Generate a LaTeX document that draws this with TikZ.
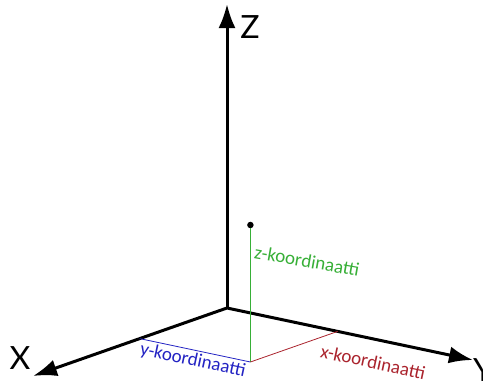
\documentclass[tikz,border=0pt]{standalone}
\usepackage{fontspec}
\setmainfont{Lato}
\newfontfamily\labelfont{Carlito}
\usetikzlibrary{arrows.meta,calc}
\definecolor{zgreen}{RGB}{55,175,55}
\definecolor{yblue}{RGB}{35,35,195}
\definecolor{xred}{RGB}{170,35,45}
\def\myfrac{0.45}
\def\myheight{137}
\tikzset{
  axis/.style={line width=3pt,line join=miter},
  tip/.style={-{Latex[length=24pt,width=17pt]}},
  axisname/.style={inner sep=0pt,font=\fontsize{32}{32}\selectfont},
  coordname/.style={inner sep=0pt,font=\labelfont\fontsize{19}{19}\selectfont},
  dot/.style={circle,fill,inner sep=2.3pt}
}

\begin{document}
\begin{tikzpicture}[x=1pt,y=-1pt]
\useasboundingbox (0,0) rectangle (483,383);
% the origin and the ends of the axes
\coordinate (O) at (227,308);
\coordinate (Xend) at (33,376);
\coordinate (Yend) at (473,360);
\coordinate (Zend) at (227,4);
% the axes
\draw[axis,{Latex[length=24pt,width=17pt]}-{Latex[length=24pt,width=17pt]}]
  (Xend) -- (O) -- (Yend);
\draw[axis,tip] (O) -- (Zend);
% the axis names
\node[axisname] (xname) at (20,358) {X};
\node[axisname] (yname) at (483,370) {Y};
\node[axisname] (zname) at (250,27) {Z};
% the point and its foot in the xy plane
\coordinate (A) at ($(O)!\myfrac!(Xend)$);
\coordinate (B) at ($(O)!\myfrac!(Yend)$);
\coordinate (F) at ($(A)+(B)-(O)$);
\node[dot] (P) at ($(F)+(0,-\myheight)$) {};
% the coordinate lines
\draw[zgreen,line width=0.8pt] (P) -- (F);
\draw[yblue,line width=0.8pt] (A) --
  node[coordname,midway,sloped,below=2pt,text=yblue] (ylabel) {y-koordinaatti} (F);
\draw[xred,line width=0.8pt] (B) -- (F);
% the other labels
\node[coordname,text=zgreen,rotate=-10] (zlabel) at (307,261) {z-koordinaatti};
\node[coordname,text=xred,rotate=-12] (xlabel) at (373,362) {x-koordinaatti};
\end{tikzpicture}
\end{document}
